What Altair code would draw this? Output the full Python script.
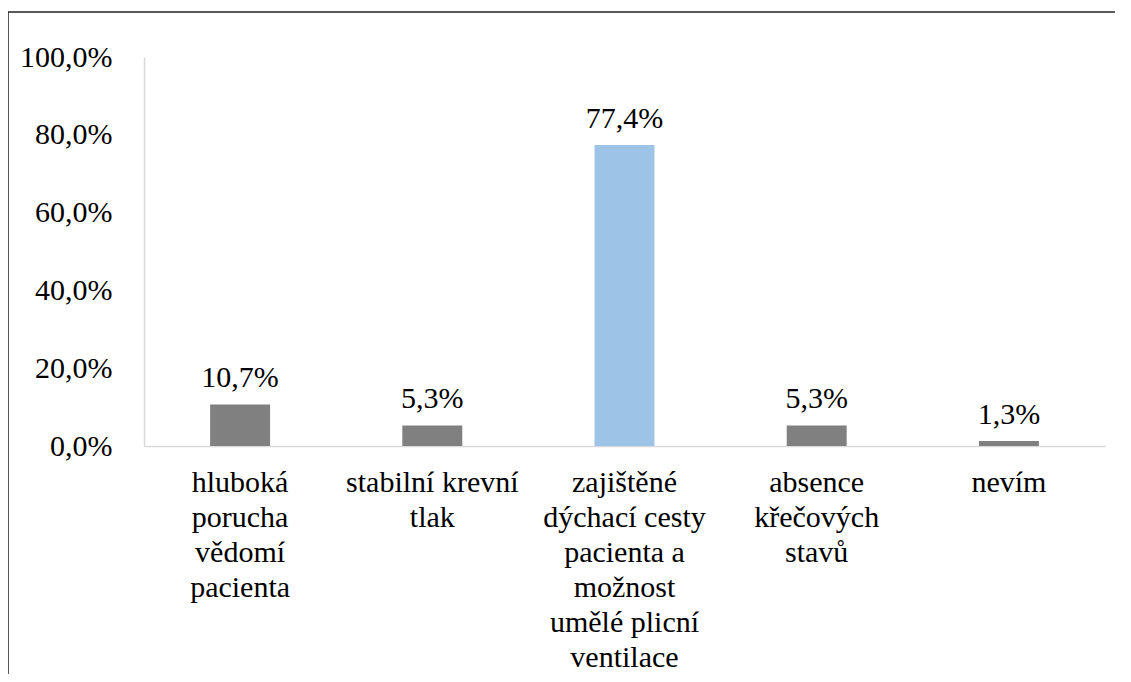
import altair as alt
import pandas as pd

categories = [
    "hluboká|porucha|vědomí|pacienta",
    "stabilní krevní|tlak",
    "zajištěné|dýchací cesty|pacienta a|možnost|umělé plicní|ventilace",
    "absence|křečových|stavů",
    "nevím",
]
values = [0.107, 0.053, 0.774, 0.053, 0.013]
colors = ["#808080", "#808080", "#9dc3e6", "#808080", "#808080"]

df = pd.DataFrame({"cat": categories, "val": values, "col": colors})

FONT = "Liberation Serif"
FS = 30

x = alt.X(
    "cat:N",
    sort=categories,
    scale=alt.Scale(paddingInner=0.688, paddingOuter=0.344),
    axis=alt.Axis(
        title=None,
        labelAngle=0,
        labelFont=FONT,
        labelFontSize=FS,
        labelColor="#000000",
        labelPadding=21,
        labelLineHeight=35,
        labelLimit=0,
        labelExpr="split(datum.label, '|')",
        ticks=False,
        domainColor="#d9d9d9",
        domainWidth=1.5,
    ),
)
y = alt.Y(
    "val:Q",
    scale=alt.Scale(domain=[0, 1]),
    axis=alt.Axis(
        title=None,
        values=[0, 0.2, 0.4, 0.6, 0.8, 1.0],
        labelExpr="replace(format(datum.value, '.1%'), '.', ',')",
        labelFont=FONT,
        labelFontSize=FS,
        labelColor="#000000",
        labelPadding=32,
        ticks=False,
        grid=False,
        domainColor="#d9d9d9",
        domainWidth=1.5,
    ),
)

bars = alt.Chart(df).mark_bar().encode(
    x=x, y=y, color=alt.Color("col:N", scale=None)
)

text = (
    alt.Chart(df)
    .transform_calculate(lbl="replace(format(datum.val, '.1%'), '.', ',')")
    .mark_text(font=FONT, fontSize=FS, color="#000000", baseline="alphabetic", dy=-17)
    .encode(x=alt.X("cat:N", sort=categories), y="val:Q", text="lbl:N")
)

border_df = pd.DataFrame({"a": [0]})
left_border = alt.Chart(border_df).mark_rule(color="#222222", strokeWidth=1.5).encode(
    x=alt.value(-136), y=alt.value(-45), y2=alt.value(640)
)
top_border = alt.Chart(border_df).mark_rule(color="#222222", strokeWidth=1.5).encode(
    x=alt.value(-136), x2=alt.value(1000), y=alt.value(-45)
)

chart = (
    alt.layer(bars, text, left_border, top_border)
    .properties(
        width=961,
        height=389,
        autosize=alt.AutoSizeParams(type="none"),
        padding={"left": 136, "top": 49, "right": 10, "bottom": 228},
    )
    .configure_view(stroke=None)
)

chart.save("out.html", embed_options={"renderer": "svg", "actions": False})
